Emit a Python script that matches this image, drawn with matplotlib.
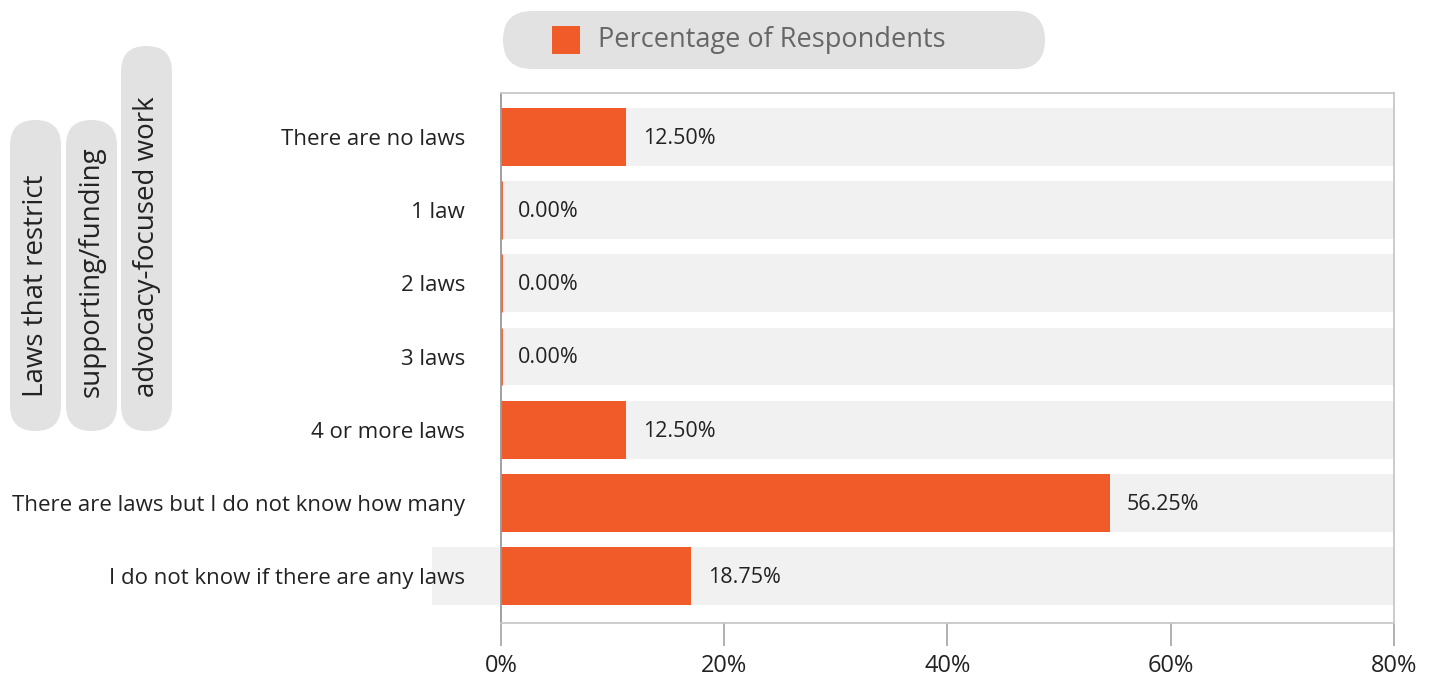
import matplotlib
matplotlib.use("Agg")
import matplotlib.pyplot as plt
from matplotlib.patches import FancyBboxPatch, Rectangle

plt.rcParams['font.family'] = ['Open Sans', 'DejaVu Sans']

categories = ["There are no laws", "1 law", "2 laws", "3 laws", "4 or more laws",
              "There are laws but I do not know how many",
              "I do not know if there are any laws"]
bar_values = [11.23, 0.0, 0.0, 0.0, 11.23, 54.58, 17.03]
value_labels = ["12.50%", "0.00%", "0.00%", "0.00%", "12.50%", "56.25%", "18.75%"]
x_ticks = [0, 20, 40, 60, 80]
x_tick_labels = ["0%", "20%", "40%", "60%", "80%"]
series_name = "Percentage of Respondents"
ylabel_lines = ["Laws that restrict", "supporting/funding", "advocacy-focused work"]

ORANGE = "#f15a29"
BAND = "#f1f1f1"
PILL = "#e2e2e2"
TEXT = "#222222"

fig = plt.figure(figsize=(14.35, 6.8), dpi=100)
ax = fig.add_axes([501/1435, 57/680, 893/1435, 530/680])

y = list(range(len(categories)))
xmax = x_ticks[-1]
ax.barh(y, [xmax]*len(y), height=0.79, color=BAND, zorder=1)
# extension of the last band to the left
ax.barh([y[-1]], [6.2], left=-6.2, height=0.79, color=BAND, zorder=1, clip_on=False)
lw = [2.0 if v == 0 else 0 for v in bar_values]
ax.barh(y, bar_values, height=0.79, color=ORANGE, edgecolor=ORANGE, linewidth=lw, zorder=2)

for yi, v, lab in zip(y, bar_values, value_labels):
    ax.annotate(lab, (v, yi), xytext=(12, -1), textcoords='offset points',
                va='center', ha='left', fontsize=15.5, color=TEXT, zorder=3)

ax.set_xlim(0, xmax)
ax.set_ylim(6.64, -0.60)
ax.set_xticks(x_ticks)
ax.set_xticklabels(x_tick_labels, fontsize=17, color=TEXT)
ax.set_yticks(y)
ax.set_yticklabels(categories, fontsize=16, color=TEXT)
ax.tick_params(axis='y', length=0, pad=26)
ax.tick_params(axis='x', length=16.5, width=1.3, color='#aaaaaa', pad=6)
for s in ['top', 'right', 'bottom']:
    ax.spines[s].set_color('#c8c8c8')
    ax.spines[s].set_linewidth(1.3)
ax.spines['left'].set_color('#999999')
ax.spines['left'].set_linewidth(1.3)

# overlay in pixel coordinates for legend and y-title pills
ov = fig.add_axes([0, 0, 1, 1], zorder=5)
ov.set_xlim(0, 1435)
ov.set_ylim(680, 0)
ov.axis('off')

# legend pill
ov.add_patch(FancyBboxPatch((503, 11), 542, 58,
                            boxstyle="round,pad=0,rounding_size=29",
                            fc=PILL, ec='none'))
ov.add_patch(Rectangle((552, 26), 28, 28, fc=ORANGE, ec='none'))
ov.text(598, 40, series_name, fontsize=19.5, color='#666666', va='center', ha='left')

# y title pills
pills = [(10, 120), (66, 120), (121, 46)]
for (px, ptop), line in zip(pills, ylabel_lines):
    ov.add_patch(FancyBboxPatch((px, ptop), 51, 431 - ptop,
                                boxstyle="round,pad=0,rounding_size=25.5",
                                fc=PILL, ec='none'))
    ov.text(px + 26, 397, line, rotation=90, fontsize=20, color=TEXT,
            ha='left', va='center', rotation_mode='anchor')

fig.savefig("out.png", dpi=100)
